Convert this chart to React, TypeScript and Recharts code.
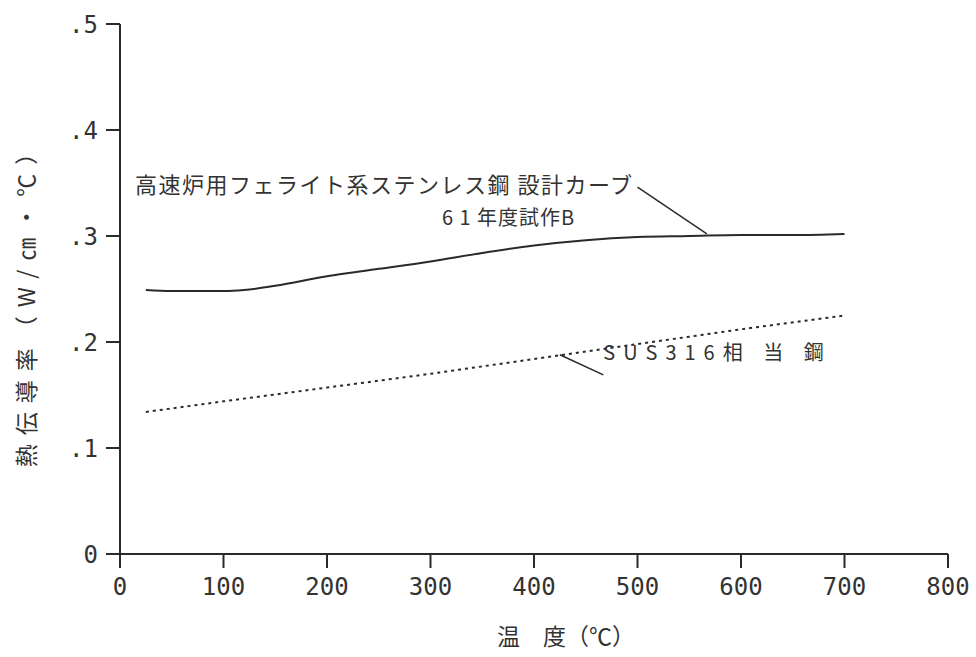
import { LineChart, Line, XAxis, YAxis, ReferenceLine, ReferenceDot } from 'recharts'

const X_TICKS = [0, 100, 200, 300, 400, 500, 600, 700, 800]
const Y_TICKS = [0, 0.1, 0.2, 0.3, 0.4, 0.5]

// 高速炉用フェライト系ステンレス鋼 設計カーブ (61年度試作B)
const DESIGN_TEMPS = [25, 50, 100, 120, 150, 200, 250, 300, 350, 400, 450, 500, 550, 600, 650, 700]
const DESIGN_VALUES = [0.249, 0.248, 0.248, 0.249, 0.253, 0.262, 0.269, 0.276, 0.284, 0.291, 0.296, 0.299, 0.3, 0.301, 0.301, 0.302]

// SUS316相当鋼
const SUS_TEMPS = [25, 100, 200, 300, 400, 500, 600, 700]
const SUS_VALUES = [0.134, 0.144, 0.157, 0.17, 0.184, 0.198, 0.212, 0.225]

const designData = DESIGN_TEMPS.map((t, i) => ({ t, k: DESIGN_VALUES[i] }))
const susData = SUS_TEMPS.map((t, i) => ({ t, k: SUS_VALUES[i] }))

const MONO = '"DejaVu Sans Mono", "Liberation Mono", monospace'
const JP = '"Noto Sans CJK JP", "Noto Sans", sans-serif'
const INK = '#2a2a2a'

const fmtY = (v: number) => (v === 0 ? '0' : '.' + Math.round(v * 10))

function Note({ text, size = 22, spacing = 0 }: { text: string; size?: number; spacing?: number }) {
  return (props: any) => {
    const vb = props.viewBox || {}
    return (
      <text
        x={vb.x}
        y={vb.y}
        fontFamily={JP}
        fontSize={size}
        letterSpacing={spacing}
        fill="#333"
        dominantBaseline="central"
        textAnchor="start"
      >
        {text}
      </text>
    )
  }
}

export default function App() {
  return (
    <div style={{ position: 'absolute', left: 0, top: 0, background: '#fff' }}>
      <LineChart width={976} height={657} margin={{ top: 24, right: 28, bottom: 0, left: 0 }}>
        <XAxis
          dataKey="t"
          type="number"
          domain={[0, 800]}
          ticks={X_TICKS}
          allowDuplicatedCategory={false}
          height={103}
          tickSize={14}
          tickMargin={10}
          stroke={INK}
          strokeWidth={2}
          tick={{ fontFamily: MONO, fontSize: 24, fill: '#333' }}
          label={(p: any) => {
            const vb = p.viewBox || {}
            return (
              <text
                x={vb.x + 446}
                y={vb.y + 81}
                fontFamily={JP}
                fontSize={23}
                fill="#333"
                textAnchor="middle"
                dominantBaseline="central"
              >
                温　度（℃）
              </text>
            )
          }}
        />
        <YAxis
          dataKey="k"
          type="number"
          domain={[0, 0.5]}
          ticks={Y_TICKS}
          width={120}
          tickSize={14}
          tickMargin={8}
          stroke={INK}
          strokeWidth={2}
          tickFormatter={fmtY}
          tick={{ fontFamily: MONO, fontSize: 24, fill: '#333' }}
          label={(p: any) => {
            const vb = p.viewBox || {}
            const cx = vb.x + 25
            const cy = vb.y + 276
            return (
              <text
                x={cx}
                y={cy}
                transform={`rotate(-90 ${cx} ${cy})`}
                fontFamily={JP}
                fontSize={23}
                letterSpacing={9}
                fill="#333"
                textAnchor="middle"
                dominantBaseline="central"
              >
                熱伝導率（W/㎝・℃）
              </text>
            )
          }}
        />
        <Line
          data={designData}
          dataKey="k"
          type="monotone"
          stroke={INK}
          strokeWidth={2}
          dot={false}
          isAnimationActive={false}
        />
        <Line
          data={susData}
          dataKey="k"
          type="linear"
          stroke={INK}
          strokeWidth={2}
          strokeDasharray="3 4"
          dot={false}
          isAnimationActive={false}
        />
        <ReferenceLine
          segment={[{ x: 500, y: 0.346 }, { x: 567, y: 0.302 }]}
          stroke={INK}
          strokeWidth={1.5}
        />
        <ReferenceLine
          segment={[{ x: 425, y: 0.188 }, { x: 467, y: 0.169 }]}
          stroke={INK}
          strokeWidth={1.5}
        />
        <ReferenceDot
          x={14.5}
          y={0.35}
          r={0}
          stroke="none"
          fill="none"
          label={Note({ text: '高速炉用フェライト系ステンレス鋼 設計カーブ', size: 22, spacing: 1.5 })}
        />
        <ReferenceDot
          x={311}
          y={0.318}
          r={0}
          stroke="none"
          fill="none"
          label={Note({ text: '6 1 年度試作B', size: 20, spacing: 1 })}
        />
        <ReferenceDot
          x={467}
          y={0.191}
          r={0}
          stroke="none"
          fill="none"
          label={Note({ text: 'SUS316相 当 鋼', size: 20, spacing: 8 })}
        />
      </LineChart>
    </div>
  )
}
